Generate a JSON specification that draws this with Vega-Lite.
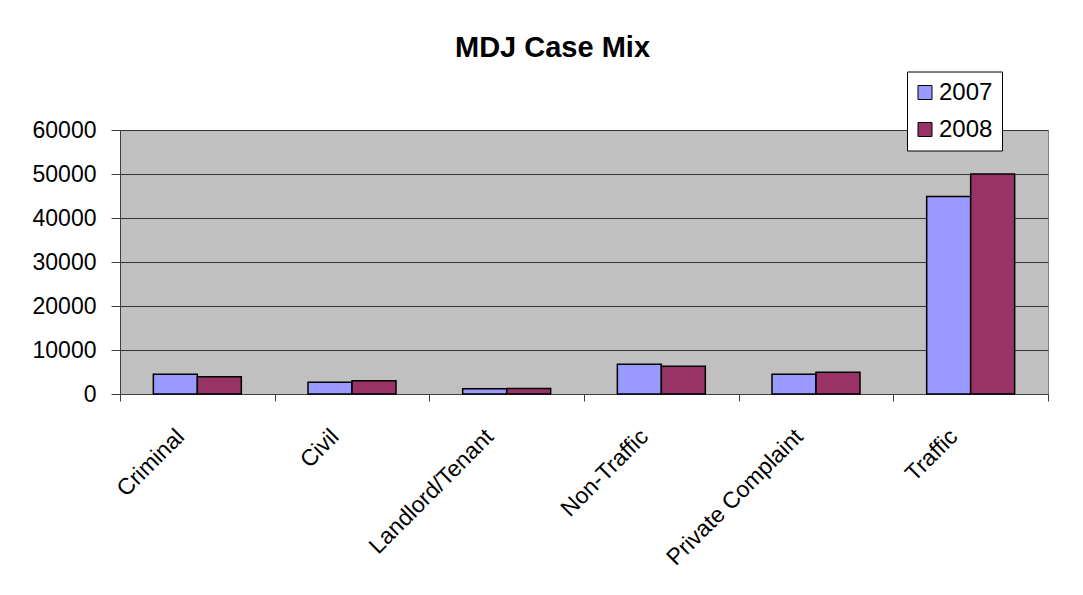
{
  "$schema": "https://vega.github.io/schema/vega-lite/v6.json",
  "width": 928,
  "height": 264,
  "autosize": {"type": "none"},
  "padding": {"left": 120, "top": 130, "right": 35, "bottom": 201},
  "background": "white",
  "title": {"text": "MDJ Case Mix", "font": "Liberation Sans", "fontSize": 29, "fontWeight": "bold", "color": "black", "anchor": "middle", "frame": "group", "dx": -31.5, "offset": 8},
  "data": {"values": [
    {"category": "Criminal", "year": "2007", "cases": 4480},
    {"category": "Criminal", "year": "2008", "cases": 3930},
    {"category": "Civil", "year": "2007", "cases": 2650},
    {"category": "Civil", "year": "2008", "cases": 3030},
    {"category": "Landlord/Tenant", "year": "2007", "cases": 1200},
    {"category": "Landlord/Tenant", "year": "2008", "cases": 1270},
    {"category": "Non-Traffic", "year": "2007", "cases": 6740},
    {"category": "Non-Traffic", "year": "2008", "cases": 6290},
    {"category": "Private Complaint", "year": "2007", "cases": 4470},
    {"category": "Private Complaint", "year": "2008", "cases": 4920},
    {"category": "Traffic", "year": "2007", "cases": 44900},
    {"category": "Traffic", "year": "2008", "cases": 50000}
  ]},
  "mark": {"type": "bar", "stroke": "black", "strokeWidth": 1.5},
  "encoding": {
    "x": {"field": "category", "type": "nominal", "sort": null,
      "scale": {"paddingInner": 0, "paddingOuter": 0},
      "axis": {"title": null, "labelAngle": -45, "labelAlign": "right", "labelBaseline": "top", "labelPadding": 24, "labelOffset": -25, "labelFontSize": 23, "labelColor": "black", "tickBand": "extent", "tickSize": 7, "tickColor": "#404040", "domainColor": "#404040", "grid": false, "labelLimit": 400}},
    "xOffset": {"field": "year", "type": "nominal", "scale": {"paddingInner": 0, "paddingOuter": 0.758}},
    "y": {"field": "cases", "type": "quantitative", "scale": {"domain": [0, 60000], "nice": false},
      "axis": {"title": null, "values": [0, 10000, 20000, 30000, 40000, 50000, 60000], "format": "d", "tickSize": 9, "labelPadding": 15, "labelFontSize": 23, "labelColor": "black", "tickColor": "#404040", "domainColor": "#404040", "grid": true, "gridColor": "#333333", "gridOpacity": 1}},
    "color": {"field": "year", "type": "nominal",
      "scale": {"domain": ["2007", "2008"], "range": ["#9999FF", "#993366"]},
      "legend": {"title": null, "orient": "none", "legendX": 787, "legendY": -58.5, "fillColor": "white", "strokeColor": "black", "padding": 9, "symbolType": "square", "symbolSize": 196, "symbolOffset": -3, "symbolStrokeColor": "black", "symbolStrokeWidth": 1, "labelFontSize": 24, "labelColor": "black", "rowPadding": 13, "labelOffset": 2}}
  },
  "config": {"view": {"fill": "#C0C0C0", "stroke": "#808080"}, "font": "Liberation Sans"}
}
